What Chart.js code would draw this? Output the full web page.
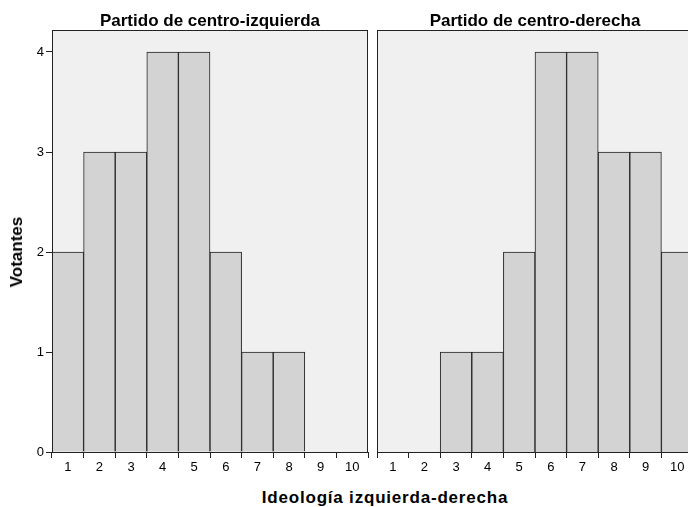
<!DOCTYPE html>
<html>
<head>
<meta charset="utf-8">
<script src="https://cdn.jsdelivr.net/npm/chart.js@4"></script>
<style>
  body { margin: 0; background: #fff; }
  #wrap { position: relative; width: 688px; height: 507px; overflow: hidden; }
  #leftChart { position: absolute; left: 0; top: 0; }
  #rightChart { position: absolute; left: 372px; top: 0; }
  #xTitle {
    position: absolute; left: 41px; width: 688px; top: 488px; text-align: center;
    font: bold 17px "Liberation Sans", Arial, sans-serif; letter-spacing: 0.8px; color: #000;
    white-space: nowrap;
  }
  #yTitle {
    position: absolute; left: 17px; top: 252px; transform: translate(-50%, -50%) rotate(-90deg);
    font: bold 17px "Liberation Sans", Arial, sans-serif; color: #000; white-space: nowrap;
  }
</style>
</head>
<body>
<div id="wrap">
  <canvas id="leftChart" width="373" height="480"></canvas>
  <canvas id="rightChart" width="326" height="480"></canvas>
  <div id="yTitle">Votantes</div>
  <div id="xTitle">Ideología izquierda-derecha</div>
</div>
<script>
const ideologia = ['1', '2', '3', '4', '5', '6', '7', '8', '9', '10'];
const centroIzquierda = [2, 3, 3, 4, 4, 2, 1, 1, 0, 0];
const centroDerecha = [0, 0, 1, 1, 2, 4, 4, 3, 3, 2];
const yTicks = [0, 1, 2, 3, 4];

Chart.defaults.font.family = '"Liberation Sans", Arial, sans-serif';
Chart.defaults.color = '#000';

// fondo gris y marco del panel
const panelFrame = {
  id: 'panelFrame',
  beforeDatasetsDraw(chart) {
    const a = chart.chartArea, c = chart.ctx;
    c.save();
    c.fillStyle = '#f0f0f0';
    c.fillRect(a.left, a.top, a.right - a.left, a.bottom - a.top);
    c.restore();
  },
  afterDatasetsDraw(chart) {
    const a = chart.chartArea, c = chart.ctx;
    c.save();
    c.strokeStyle = '#222';
    c.lineWidth = 1;
    c.strokeRect(a.left + 0.5, a.top + 0.5, a.right - a.left - 1, a.bottom - a.top);
    c.restore();
  }
};

function panel(el, title, values, showY, pad) {
  return new Chart(document.getElementById(el), {
    type: 'bar',
    data: {
      labels: ideologia,
      datasets: [{
        data: values,
        backgroundColor: '#d3d3d3',
        borderColor: '#222',
        borderWidth: 1,
        barPercentage: 1,
        categoryPercentage: 1
      }]
    },
    options: {
      responsive: false,
      devicePixelRatio: 1,
      animation: false,
      layout: { padding: pad },
      plugins: {
        legend: { display: false },
        tooltip: { enabled: false },
        title: {
          display: true,
          text: title,
          fullSize: false,
          font: { size: 17, weight: 'bold', lineHeight: 1 },
          padding: { top: 12.5, bottom: 0.5 }
        }
      },
      scales: {
        x: {
          grid: { drawOnChartArea: false, tickLength: 6, tickColor: '#222' },
          border: { display: false },
          ticks: { font: { size: 13 }, padding: 2, maxRotation: 0 },
          afterFit(s) { s.height = 28; }
        },
        y: {
          display: showY,
          min: 0,
          max: 4.22,
          grid: { drawOnChartArea: false, tickLength: 6, tickColor: '#222' },
          border: { display: false },
          ticks: {
            stepSize: 1,
            includeBounds: false,
            font: { size: 13 },
            padding: 2,
            callback: v => yTicks.includes(v) ? v : ''
          },
          afterFit(s) { s.width = showY ? 52 : 0; }
        }
      }
    },
    plugins: [panelFrame]
  });
}

panel('leftChart', 'Partido de centro-izquierda', centroIzquierda, true, { left: 0, right: 5, top: 0, bottom: 0 });
panel('rightChart', 'Partido de centro-derecha', centroDerecha, false, { left: 5, right: 5, top: 0, bottom: 0 });
</script>
</body>
</html>
